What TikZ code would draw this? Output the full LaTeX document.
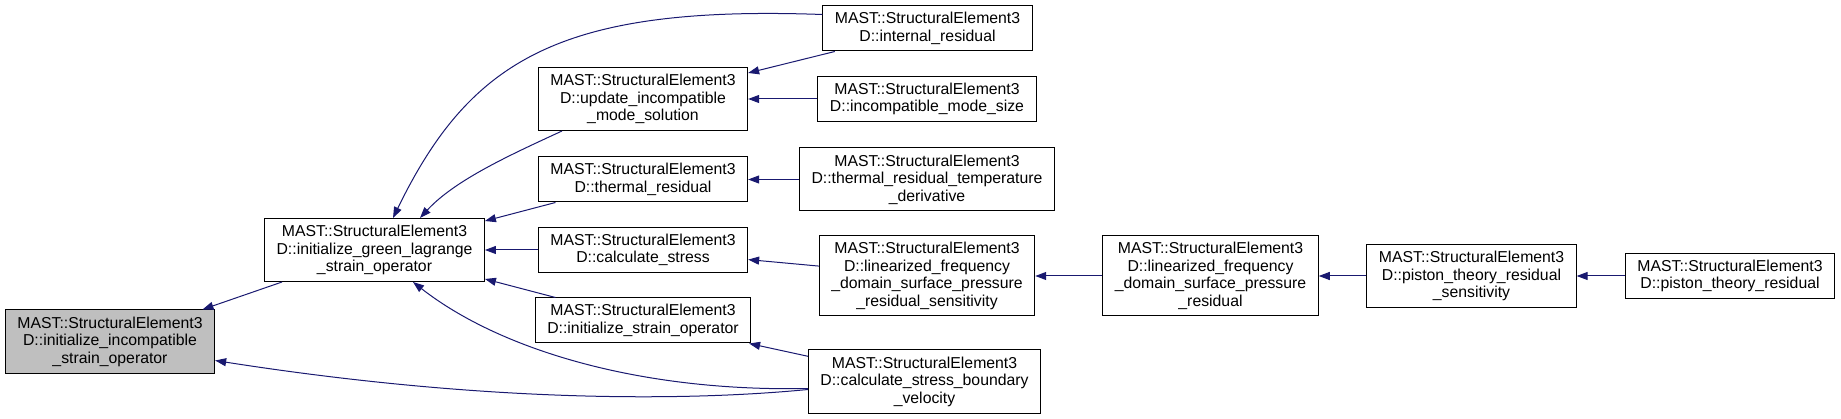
\documentclass[tikz,border=0pt]{standalone}
\usepackage{fontspec}
\setmainfont{Liberation Sans}
\usetikzlibrary{arrows.meta}
\definecolor{edgeblue}{HTML}{191970}
\definecolor{nodegrey}{HTML}{BFBFBF}
\tikzset{
  fn/.style={draw=black, line width=1pt, fill=white, align=center,
    inner xsep=12pt, inner ysep=0pt, font=\fontsize{15.8}{17.5}\selectfont},
  lines2/.style={fn, minimum height=45pt},
  lines3/.style={fn, minimum height=63pt},
  lines4/.style={fn, minimum height=80pt},
  calls/.style={draw=edgeblue, line width=1pt, -{Triangle[length=11pt,width=8pt]}},
}

\begin{document}
\begin{tikzpicture}[x=1pt,y=-1pt]
  \useasboundingbox (0,0) rectangle (1841,419);
  \node[lines3,fill=nodegrey] (iis) at (110,341.5) {MAST::StructuralElement3\\D::initialize\_incompatible\\\_strain\_operator};
  \node[lines3] (igl) at (374.5,250) {MAST::StructuralElement3\\D::initialize\_green\_lagrange\\\_strain\_operator};
  \node[lines3] (uim) at (643,99) {MAST::StructuralElement3\\D::update\_incompatible\\\_mode\_solution};
  \node[lines2] (tr) at (643,179.5) {MAST::StructuralElement3\\D::thermal\_residual};
  \node[lines2] (cs) at (643,250) {MAST::StructuralElement3\\D::calculate\_stress};
  \node[lines2] (iso) at (643,320.5) {MAST::StructuralElement3\\D::initialize\_strain\_operator};
  \node[lines2] (ir) at (927.5,28.5) {MAST::StructuralElement3\\D::internal\_residual};
  \node[lines2] (ims) at (927,99) {MAST::StructuralElement3\\D::incompatible\_mode\_size};
  \node[lines3] (trtd) at (927,179.5) {MAST::StructuralElement3\\D::thermal\_residual\_temperature\\\_derivative};
  \node[lines4] (lfs) at (927,276) {MAST::StructuralElement3\\D::linearized\_frequency\\\_domain\_surface\_pressure\\\_residual\_sensitivity};
  \node[lines3] (csbv) at (924.5,381.5) {MAST::StructuralElement3\\D::calculate\_stress\_boundary\\\_velocity};
  \node[lines4] (lfr) at (1210.5,276) {MAST::StructuralElement3\\D::linearized\_frequency\\\_domain\_surface\_pressure\\\_residual};
  \node[lines3] (ptrs) at (1471.5,276) {MAST::StructuralElement3\\D::piston\_theory\_residual\\\_sensitivity};
  \node[lines2] (ptr) at (1730,276) {MAST::StructuralElement3\\D::piston\_theory\_residual};
  \draw[calls] (igl) -- (iis);
  \draw[calls] ([yshift=-8pt]csbv.west) .. controls (700,400) and (500,405) .. ([yshift=-19pt]iis.east);
  \draw[calls] ([yshift=14pt]ir.west) .. controls (560,5) and (470,60) .. ([xshift=18.5pt]igl.north);
  \draw[calls] ([xshift=-81pt]uim.south) .. controls (510,155) and (455,180) .. ([xshift=45.5pt]igl.north);
  \draw[calls] (tr) -- (igl);
  \draw[calls] (cs) -- (igl);
  \draw[calls] (iso) -- (igl);
  \draw[calls] ([yshift=-7pt]csbv.west) .. controls (640,392) and (500,350) .. ([xshift=38.5pt]igl.south);
  \draw[calls] (ir) -- (uim);
  \draw[calls] (ims) -- (uim);
  \draw[calls] (trtd) -- (tr);
  \draw[calls] (lfs) -- (cs);
  \draw[calls] (csbv) -- (iso);
  \draw[calls] (lfr) -- (lfs);
  \draw[calls] (ptrs) -- (lfr);
  \draw[calls] (ptr) -- (ptrs);
\end{tikzpicture}
\end{document}
